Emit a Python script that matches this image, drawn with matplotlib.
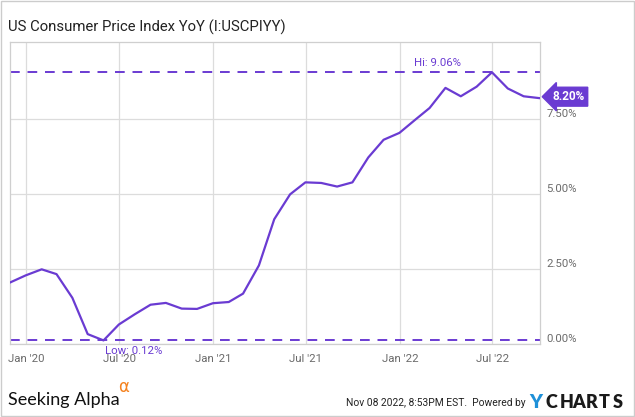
import matplotlib
matplotlib.use("Agg")
import matplotlib.pyplot as plt
import pandas as pd

# monthly CPI YoY (%), plotted at month end
months = pd.date_range("2019-11-30", "2022-09-30", freq="ME")
cpi_yoy = [2.05, 2.29, 2.49, 2.33, 1.54, 0.33, 0.12, 0.65, 0.99, 1.31, 1.37, 1.18,
           1.17, 1.36, 1.40, 1.68, 2.62, 4.16, 4.99, 5.39, 5.37, 5.25, 5.39, 6.22,
           6.81, 7.04, 7.48, 7.87, 8.54, 8.26, 8.58, 9.06, 8.52, 8.26, 8.20]
y_ticks = [0, 2.5, 5.0, 7.5]
x_ticks = pd.to_datetime(["2020-01-01", "2020-07-01", "2021-01-01", "2021-07-01",
                          "2022-01-01", "2022-07-01"])
x_labels = ["Jan '20", "Jul '20", "Jan '21", "Jul '21", "Jan '22", "Jul '22"]

purple = "#6a3bd2"
grid_c = "#dcdcdc"
tick_c = "#6b6b6b"

plt.rcParams['font.family'] = ['Roboto', 'DejaVu Sans']

fig = plt.figure(figsize=(6.35, 4.17), dpi=100)
ax = fig.add_axes([10 / 635, 1 - 344 / 417, 530 / 635, 302 / 417])

ax.plot(months, cpi_yoy, color=purple, lw=1.6, zorder=3)

hi = max(cpi_yoy)
lo = min(cpi_yoy)
ax.axhline(hi, color=purple, lw=1.4, ls=(0, (5, 4)), zorder=2)
ax.axhline(lo, color=purple, lw=1.4, ls=(0, (5, 4)), zorder=2)

ax.set_xlim(pd.Timestamp("2019-11-30"), pd.Timestamp("2022-10-02"))
ax.set_ylim(0, 10.07)

ax.set_xticks(x_ticks)
ax.set_xticklabels(x_labels)
ax.set_yticks(y_ticks)
ax.yaxis.tick_right()
ax.set_yticklabels([])
for v in y_ticks:
    ax.text(1.012, v, f"{v:.2f}%", transform=ax.get_yaxis_transform(),
            ha="left", va="bottom", fontsize=8.2, color=tick_c)
ax.tick_params(axis="x", length=0, labelsize=8.2, labelcolor=tick_c, pad=7)
ax.tick_params(axis="y", length=0)
ax.grid(True, color=grid_c, lw=0.9)
ax.set_axisbelow(True)
for s in ax.spines.values():
    s.set_color("#cfcfcf")
    s.set_linewidth(0.9)

# hi / low annotations
hi_date = months[cpi_yoy.index(hi)]
lo_date = months[cpi_yoy.index(lo)]
ax.annotate(f"Hi: {hi:.2f}%", (hi_date, hi), xytext=(-56, 3), textcoords="offset points",
            ha="left", va="bottom", fontsize=8.2, color=purple)
ax.annotate(f"Low: {lo:.2f}%", (lo_date, lo), xytext=(1, -4), textcoords="offset points",
            ha="left", va="top", fontsize=8.2, color=purple)

# last value tag
ax.annotate(f"{cpi_yoy[-1]:.2f}%", (1.0, cpi_yoy[-1]), xycoords=ax.get_yaxis_transform(),
            xytext=(9, 1), textcoords="offset points", ha="left", va="center",
            fontsize=8.5, fontweight="bold", color="white",
            bbox=dict(boxstyle="larrow,pad=0.25", fc=purple, ec=purple))

fig.text(8 / 635, 1 - 27 / 417, "US Consumer Price Index YoY (I:USCPIYY)",
         fontsize=10.7, color="#222222", ha="left", va="center")

# footer
fig.text(8 / 635, 1 - 400 / 417, "Seeking Alpha", fontsize=13, color="#111111",
         family="Lato", ha="left", va="center")
fig.text(118 / 635, 1 - 387 / 417, "α", fontsize=12, color="#f5821f",
         family="DejaVu Sans", ha="left", va="center")
fig.text(526 / 635, 1 - 403 / 417, "Nov 08 2022, 8:53PM EST.  Powered by",
         fontsize=7.4, color="#222222", ha="right", va="center")
fig.text(529 / 635, 1 - 402 / 417, "Y", fontsize=14, fontweight="heavy", color="#1e90d8",
         ha="left", va="center", family="Lato")
for i, ch in enumerate("CHARTS"):
    fig.text((546 + i * 13.3) / 635, 1 - 402 / 417, ch, fontsize=13, fontweight="heavy",
             color="#1a1a1a", ha="left", va="center", family="Lato")

fig.patches.append(plt.Rectangle((0.001, 0.002), 0.997, 0.996, transform=fig.transFigure,
                                 fill=False, ec="#cccccc", lw=1))

fig.savefig("out.png", dpi=100)
